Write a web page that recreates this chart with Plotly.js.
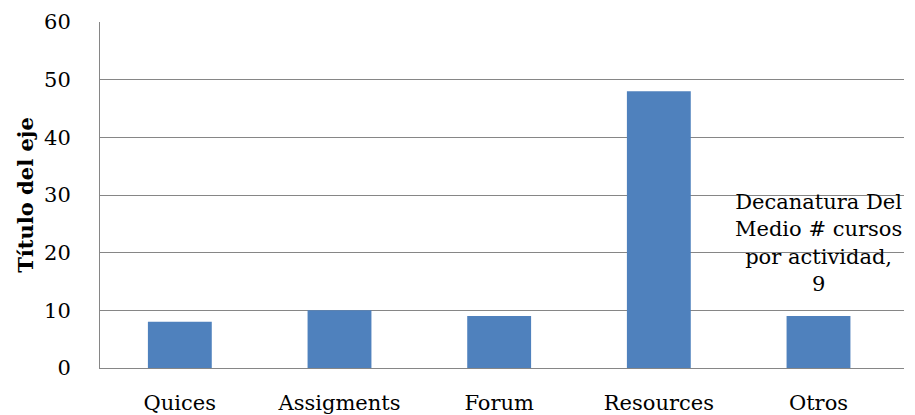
<!DOCTYPE html>
<html>
<head>
<meta charset="utf-8">
<script src="https://cdn.plot.ly/plotly-3.0.1.min.js"></script>
<style>html,body{margin:0;padding:0;background:#fff;}#chart{width:915px;height:415px;}</style>
</head>
<body>
<div id="chart"></div>
<script>
const categories = ["Quices", "Assigments", "Forum", "Resources", "Otros"];
const values = [8, 10, 9, 48, 9];
const seriesName = "Decanatura Del Medio # cursos por actividad";
const yTicks = [0, 10, 20, 30, 40, 50, 60];

const FONT = "DejaVu Serif";
const FS = 21;
const trace = {
  type: "bar",
  x: categories,
  y: values,
  name: seriesName,
  marker: {color: "#4f81bd"},
  hoverinfo: "none"
};

const labelIdx = categories.length - 1;
const layout = {
  width: 915, height: 415,
  margin: {l: 100, r: 11, t: 22, b: 47, autoexpand: false},
  paper_bgcolor: "#ffffff",
  plot_bgcolor: "#ffffff",
  bargap: 0.6,
  showlegend: false,
  font: {family: FONT, size: FS, color: "#000000"},
  xaxis: {
    type: "category",
    showgrid: false,
    showline: true, linecolor: "#868686", linewidth: 1,
    ticks: "", ticklabelstandoff: 16,
    tickfont: {family: FONT, size: FS, color: "#000"}
  },
  yaxis: {
    range: [0, 60],
    tickvals: yTicks,
    ticktext: yTicks.map(String),
    showgrid: true, gridcolor: "#868686", gridwidth: 1,
    zeroline: false,
    showline: true, linecolor: "#868686", linewidth: 1,
    ticks: "", ticklabelstandoff: 24,
    tickfont: {family: FONT, size: FS, color: "#000"},
    title: {text: "<b>Título del eje</b>", font: {family: FONT, size: FS, color: "#000"}, standoff: 4}
  },
  annotations: [{
    x: categories[labelIdx], y: values[labelIdx],
    xref: "x", yref: "y",
    text: "Decanatura Del<br>Medio # cursos<br>por actividad,<br>" + values[labelIdx],
    showarrow: false,
    yanchor: "bottom", yshift: 18,
    align: "center",
    font: {family: FONT, size: FS, color: "#000"}
  }]
};

Plotly.newPlot("chart", [trace], layout, {displayModeBar: false, staticPlot: true});
</script>
</body>
</html>
